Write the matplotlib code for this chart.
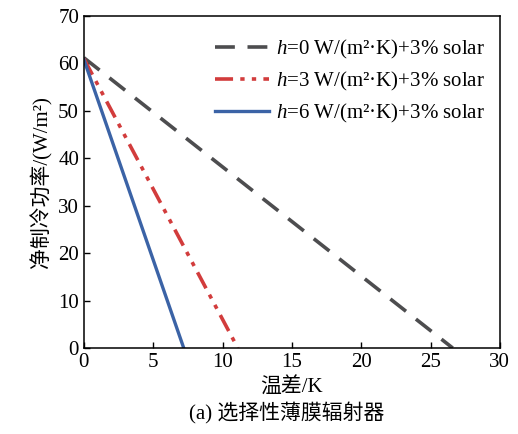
import matplotlib
matplotlib.use("Agg")
import matplotlib.pyplot as plt

plt.rcParams["font.family"] = ["Liberation Serif", "Noto Sans CJK SC"]
plt.rcParams["mathtext.fontset"] = "custom"
plt.rcParams["mathtext.rm"] = "Liberation Serif"
plt.rcParams["mathtext.it"] = "Liberation Serif:italic"

# temperature difference (K) -> net cooling power (W/m^2)
x_h0 = [0, 26.6]
y_h0 = [61.2, 0]
x_h3 = [0, 11.1]
y_h3 = [61.0, 0]
x_h6 = [0, 7.2]
y_h6 = [60.8, 0]

labels = [
    r"$h$=0 W/(m²·K)+3% solar",
    r"$h$=3 W/(m²·K)+3% solar",
    r"$h$=6 W/(m²·K)+3% solar",
]

fig = plt.figure(figsize=(5.18, 4.34), dpi=100)
ax = fig.add_axes([0.162, 0.198, 0.803, 0.765])

ax.plot(x_h0, y_h0, color="#4d4d4f", lw=2.6, dashes=(5.5, 3.5), label=labels[0])
ax.plot(x_h3, y_h3, color="#d23c3c", lw=2.6, dashes=(5, 2, 1.2, 2, 1.2, 2), label=labels[1])
ax.plot(x_h6, y_h6, color="#3b63a6", lw=2.4, label=labels[2])

ax.set_xlim(0, 30)
ax.set_ylim(0, 70)
ax.set_xticks(range(0, 31, 5))
ax.set_yticks(range(0, 71, 10))
ax.tick_params(direction="in", labelsize=15, length=4, width=1)
for s in ax.spines.values():
    s.set_linewidth(1.1)

ax.set_xlabel("温差/K", fontsize=15, labelpad=4)
ax.set_ylabel("净制冷功率/(W/m²)", fontsize=15, labelpad=4)

ax.legend(loc="upper right", frameon=False, fontsize=15, handlelength=2.6,
          handletextpad=0.35, labelspacing=0.42, bbox_to_anchor=(1.01, 0.99))

fig.text(0.553, 0.035, "(a) 选择性薄膜辐射器", ha="center", fontsize=15)

fig.savefig("out.png", dpi=100, facecolor="white")
